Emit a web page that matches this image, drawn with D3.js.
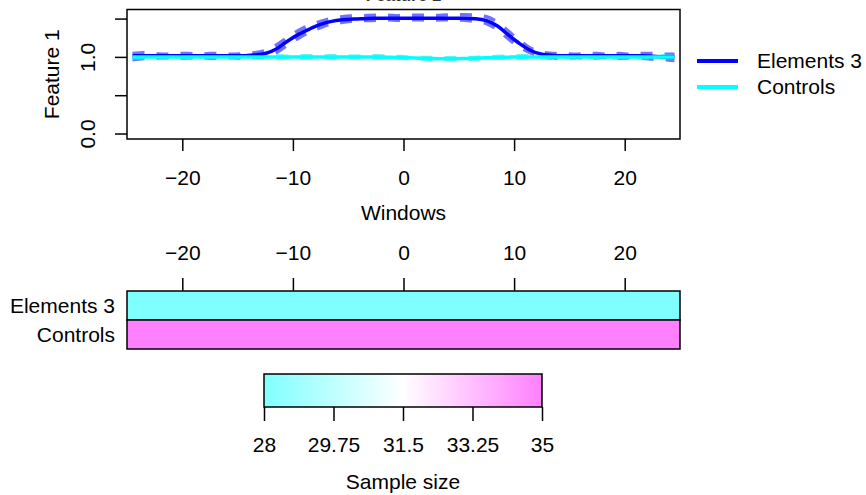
<!DOCTYPE html>
<html>
<head>
<meta charset="utf-8">
<script src="https://cdn.jsdelivr.net/npm/d3@7"></script>
<style>
html,body{margin:0;padding:0;background:#fff;}
svg{display:block;}
text{font-family:"Liberation Sans",Arial,Helvetica,sans-serif;}
</style>
</head>
<body>
<svg id="chart" width="866" height="495"></svg>
<script>
// ---------- data ----------
const windows = [-24.5,-23.5,-22.5,-21.5,-20.5,-19.5,-18.5,-17.5,-16.5,-15.5,-14.5,-13.5,-12.5,-11.5,-10.5,-9.5,-8.5,-7.5,-6.5,-5.5,-4.5,-3.5,-2.5,-1.5,-0.5,0.5,1.5,2.5,3.5,4.5,5.5,6.5,7.5,8.5,9.5,10.5,11.5,12.5,13.5,14.5,15.5,16.5,17.5,18.5,19.5,20.5,21.5,22.5,23.5,24.5];
const elementsMean  = [1.02,1.02,1.02,1.02,1.02,1.02,1.02,1.02,1.02,1.02,1.02,1.03,1.05,1.11,1.21,1.30,1.37,1.43,1.47,1.49,1.50,1.505,1.51,1.51,1.51,1.51,1.51,1.51,1.51,1.51,1.51,1.505,1.48,1.41,1.29,1.18,1.09,1.04,1.025,1.02,1.02,1.02,1.02,1.02,1.02,1.02,1.02,1.015,1.01,1.01];
const elementsUpper = [1.05,1.06,1.05,1.04,1.05,1.05,1.04,1.05,1.05,1.04,1.05,1.06,1.09,1.16,1.26,1.35,1.42,1.47,1.51,1.53,1.54,1.545,1.55,1.55,1.545,1.55,1.55,1.545,1.55,1.555,1.555,1.55,1.53,1.46,1.34,1.22,1.12,1.07,1.05,1.05,1.04,1.05,1.05,1.04,1.05,1.04,1.05,1.05,1.04,1.04];
const elementsLower = [0.97,0.985,0.99,1.0,0.99,0.995,1.0,0.99,0.995,1.0,0.99,1.0,1.015,1.06,1.16,1.25,1.33,1.39,1.44,1.46,1.475,1.48,1.485,1.49,1.485,1.49,1.49,1.485,1.49,1.49,1.485,1.47,1.44,1.36,1.24,1.13,1.06,1.01,0.995,0.99,1.0,0.99,0.995,1.0,0.99,0.995,0.99,0.98,0.97,0.96];
const controlsMean  = [1.005,1.005,1.005,1.005,1.005,1.005,1.005,1.005,1.005,1.005,1.005,1.005,1.005,1.005,1.005,1.005,1.005,1.005,1.005,1.005,1.005,1.005,1.005,1.003,1.0,0.995,0.99,0.985,0.983,0.983,0.985,0.99,0.995,1.0,1.003,1.005,1.005,1.005,1.005,1.005,1.005,1.005,1.005,1.005,1.005,1.005,1.005,1.005,1.005,1.005];
const controlsUpper = [1.02,1.02,1.015,1.02,1.02,1.015,1.02,1.02,1.015,1.02,1.02,1.015,1.02,1.02,1.015,1.02,1.02,1.015,1.02,1.02,1.015,1.02,1.02,1.015,1.012,1.005,1.0,0.997,0.995,0.995,0.997,1.0,1.005,1.012,1.015,1.02,1.02,1.015,1.02,1.02,1.015,1.02,1.02,1.015,1.02,1.02,1.015,1.02,1.02,1.015];
const controlsLower = [0.99,0.99,0.995,0.99,0.99,0.995,0.99,0.99,0.995,0.99,0.99,0.995,0.99,0.99,0.995,0.99,0.99,0.995,0.99,0.99,0.995,0.99,0.99,0.99,0.988,0.983,0.978,0.973,0.971,0.971,0.973,0.978,0.983,0.988,0.99,0.99,0.995,0.99,0.99,0.995,0.99,0.99,0.995,0.99,0.99,0.995,0.99,0.99,0.995,0.99];

const groups = ["Elements 3","Controls"];
const groupColors = ["#0000FF","#00FFFF"];
const sampleSizes = [28, 35];
const xTicks = [-20,-10,0,10,20];
const yTicks = [0,0.5,1,1.5];
const yTickLabels = ["0.0","","1.0",""];
const sizeTicks = [28,29.75,31.5,33.25,35];
const sizeTickLabels = ["28","29.75","31.5","33.25","35"];
const sizeColorStops = ["#80FFFF","#FFFFFF","#FF80FF"];

// ---------- layout ----------
const svg = d3.select("#chart");
const FS = 21;
const FF = "Liberation Sans, Arial, sans-serif";
const L = 127, R = 680;
const topP = {t: 9.5, b: 139};
const heat = {t: 291, b: 349};
const bar = {l: 264, r: 542, t: 374, b: 407};

const x = d3.scaleLinear().domain([-25,25]).range([L,R]);
const y = d3.scaleLinear().domain([-0.065,1.625]).range([topP.b, topP.t]);
const minusFmt = d => d<0 ? "\u2212"+Math.abs(d) : String(d);

// title (mostly clipped, as in the reference)
svg.append("text").attr("x",(L+R)/2).attr("y",1.2).attr("text-anchor","middle")
  .attr("font-size",17).attr("font-weight","bold").attr("fill","#333").text("Feature 1");

// clip for lines
svg.append("clipPath").attr("id","clipTop").append("rect")
  .attr("x",L).attr("y",topP.t).attr("width",R-L).attr("height",topP.b-topP.t);

const line = d3.line().x(d=>x(d[0])).y(d=>y(d[1])).curve(d3.curveMonotoneX);
const g = svg.append("g").attr("clip-path","url(#clipTop)");
const series = [
  {mean: elementsMean, up: elementsUpper, lo: elementsLower, col: groupColors[0], band:"rgba(20,20,255,0.6)"},
  {mean: controlsMean, up: controlsUpper, lo: controlsLower, col: groupColors[1], band:"rgba(0,235,235,0.6)"}
];
series.forEach(s=>{
  [s.up, s.lo].forEach(arr=>{
    g.append("path").datum(windows.map((w,i)=>[w,arr[i]]))
      .attr("d",line).attr("fill","none").attr("stroke",s.band)
      .attr("stroke-width",3.5).attr("stroke-dasharray","12,12");
  });
});
series.forEach(s=>{
  g.append("path").datum(windows.map((w,i)=>[w,s.mean[i]]))
    .attr("d",line).attr("fill","none").attr("stroke",s.col)
    .attr("stroke-width",3.5);
});

// box
svg.append("rect").attr("x",L).attr("y",topP.t).attr("width",R-L).attr("height",topP.b-topP.t)
  .attr("fill","none").attr("stroke","#000").attr("stroke-width",1.5);

// x axis bottom
const xAxis = d3.axisBottom(x).tickValues(xTicks).tickSize(12).tickFormat(minusFmt);
const gx = svg.append("g").attr("transform",`translate(0,${topP.b})`).call(xAxis);
gx.select(".domain").remove();
gx.selectAll("line").attr("stroke","#000").attr("stroke-width",1.5);
gx.selectAll("text").attr("font-size",FS).attr("font-family",FF).attr("fill","#000").attr("dy","0").attr("y",46);
svg.append("text").attr("x",(L+R)/2).attr("y",220).attr("text-anchor","middle").attr("font-size",FS).text("Windows");

// y axis
yTicks.forEach((t,i)=>{
  svg.append("line").attr("x1",L-12).attr("x2",L).attr("y1",y(t)).attr("y2",y(t))
    .attr("stroke","#000").attr("stroke-width",1.5);
  if (yTickLabels[i]) {
    svg.append("text").attr("transform",`translate(95,${y(t)}) rotate(-90)`)
      .attr("text-anchor","middle").attr("font-size",FS).text(yTickLabels[i]);
  }
});
svg.append("text").attr("transform",`translate(59,${(topP.t+topP.b)/2}) rotate(-90)`)
  .attr("text-anchor","middle").attr("font-size",FS).text("Feature 1");

// legend
groups.forEach((gName,i)=>{
  const ly = 61 + i*26;
  svg.append("line").attr("x1",697).attr("x2",738).attr("y1",ly).attr("y2",ly)
    .attr("stroke",groupColors[i]).attr("stroke-width",4);
  svg.append("text").attr("x",757).attr("y",ly+7).attr("font-size",FS).text(gName);
});

// ---------- heatmap ----------
const color = d3.scaleLinear().domain([28,31.5,35]).range(sizeColorStops);
const yb = d3.scaleBand().domain(groups).range([heat.t, heat.b]);
groups.forEach((gName,i)=>{
  svg.append("rect").attr("x",L).attr("y",yb(gName)).attr("width",R-L).attr("height",yb.bandwidth())
    .attr("fill",color(sampleSizes[i])).attr("stroke","#000").attr("stroke-width",1.5);
  svg.append("text").attr("x",115).attr("y",yb(gName)+yb.bandwidth()/2+7)
    .attr("text-anchor","end").attr("font-size",FS).text(gName);
});
const xTop = d3.axisTop(x).tickValues(xTicks).tickSize(13).tickFormat(minusFmt);
const gxt = svg.append("g").attr("transform",`translate(0,${heat.t})`).call(xTop);
gxt.select(".domain").remove();
gxt.selectAll("line").attr("stroke","#000").attr("stroke-width",1.5);
gxt.selectAll("text").attr("font-size",FS).attr("font-family",FF).attr("fill","#000").attr("dy","0").attr("y",-31);

// ---------- colour bar ----------
const defs = svg.append("defs");
const grad = defs.append("linearGradient").attr("id","sizeGrad");
sizeColorStops.forEach((c,i)=>grad.append("stop").attr("offset",(i*50)+"%").attr("stop-color",c));
const xs = d3.scaleLinear().domain([28,35]).range([bar.l,bar.r]);
svg.append("rect").attr("x",bar.l).attr("y",bar.t).attr("width",bar.r-bar.l).attr("height",bar.b-bar.t)
  .attr("fill","url(#sizeGrad)").attr("stroke","#000").attr("stroke-width",1.5);
const sAxis = d3.axisBottom(xs).tickValues(sizeTicks).tickSize(14).tickFormat((d,i)=>sizeTickLabels[i]);
const gs = svg.append("g").attr("transform",`translate(0,${bar.b})`).call(sAxis);
gs.select(".domain").remove();
gs.selectAll("line").attr("stroke","#000").attr("stroke-width",1.5);
gs.selectAll("text").attr("font-size",FS).attr("font-family",FF).attr("fill","#000").attr("dy","0").attr("y",45);
svg.append("text").attr("x",(bar.l+bar.r)/2).attr("y",489).attr("text-anchor","middle").attr("font-size",FS).text("Sample size");
</script>
</body>
</html>
